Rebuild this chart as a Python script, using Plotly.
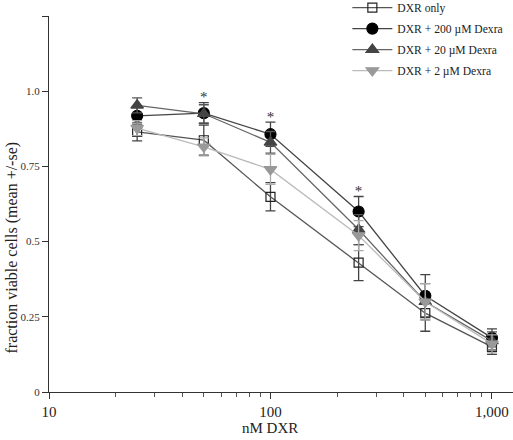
import plotly.graph_objects as go

doses = [25, 50, 100, 250, 500, 1000]

series_names = ["DXR only", "DXR + 200 µM Dexra", "DXR + 20 µM Dexra", "DXR + 2 µM Dexra"]
dxr_only = [0.865, 0.837, 0.649, 0.43, 0.262, 0.15]
dxr_only_se = [0.03, 0.05, 0.047, 0.06, 0.06, 0.025]
dexra200 = [0.918, 0.927, 0.857, 0.60, 0.32, 0.18]
dexra200_se = [0.03, 0.035, 0.04, 0.05, 0.07, 0.03]
dexra20 = [0.953, 0.925, 0.83, 0.54, 0.30, 0.17]
dexra20_se = [0.025, 0.03, 0.036, 0.05, 0.06, 0.03]
dexra2 = [0.877, 0.815, 0.74, 0.52, 0.30, 0.16]
dexra2_se = [0.025, 0.03, 0.05, 0.05, 0.06, 0.03]

star_x = [50, 100, 250]
star_y = [0.975, 0.91, 0.665]

y_ticks = [0, 0.25, 0.5, 0.75, 1.0, 1.25]
y_ticktext = ["0", "0.25", "0.5", "0.75", "1.0", ""]
x_ticks = [10, 100, 1000]
x_ticktext = ["10", "100", "1,000"]

font = "Liberation Serif, Times New Roman, serif"

styles = [
    dict(values=dxr_only, se=dxr_only_se, line="#555555", symbol="square-open", mcolor="#222222", size=9, ecolor="#444444"),
    dict(values=dexra200, se=dexra200_se, line="#444444", symbol="circle", mcolor="#000000", size=11, ecolor="#444444"),
    dict(values=dexra20, se=dexra20_se, line="#666666", symbol="triangle-up", mcolor="#444444", size=11, ecolor="#555555"),
    dict(values=dexra2, se=dexra2_se, line="#bbbbbb", symbol="triangle-down", mcolor="#999999", size=11, ecolor="#aaaaaa"),
]

fig = go.Figure()
for i, (name, s) in enumerate(zip(series_names, styles)):
    fig.add_trace(go.Scatter(
        x=doses, y=s["values"], name=name, mode="lines+markers",
        legendgroup=f"g{i}",
        line=dict(color=s["line"], width=1.3),
        marker=dict(symbol=s["symbol"], color=s["mcolor"], size=s["size"],
                    line=dict(color=s["mcolor"], width=1.2)),
        error_y=dict(type="data", array=s["se"], visible=True, color=s["ecolor"],
                     thickness=1.3, width=5),
    ))

fig.add_trace(go.Scatter(
    x=star_x, y=star_y, mode="text", text=["*"] * len(star_x),
    textfont=dict(family=font, size=15, color="#333333"),
    showlegend=False, hoverinfo="skip",
))

fig.update_layout(
    width=513, height=440,
    margin=dict(l=49, r=0, t=16, b=48, autoexpand=False),
    paper_bgcolor="white", plot_bgcolor="white",
    font=dict(family=font, color="#222222"),
    showlegend=True,
    legend=dict(x=0.643, y=1.061, xanchor="left", yanchor="top",
                font=dict(family=font, size=11.6, color="#222222"),
                bgcolor="rgba(0,0,0,0)", itemwidth=40, tracegroupgap=2),
    xaxis=dict(
        type="log", range=[1, 3.095], automargin=False,
        tickvals=x_ticks, ticktext=x_ticktext,
        ticks="outside", ticklen=6, tickcolor="#333333",
        showline=True, linecolor="#333333", linewidth=1.2,
        showgrid=False, zeroline=False,
        tickfont=dict(family=font, size=15, color="#222222"),
        minor=dict(ticks="outside", ticklen=4, tickcolor="#555555", showgrid=False, dtick="D1"),
    ),
    yaxis=dict(
        range=[0, 1.25], automargin=False,
        tickvals=y_ticks, ticktext=y_ticktext,
        ticks="outside", ticklen=6, tickcolor="#333333",
        showline=True, linecolor="#333333", linewidth=1.2,
        showgrid=False, zeroline=False,
        tickfont=dict(family=font, size=11, color="#333333"),
    ),
    annotations=[
        dict(text="fraction viable cells (mean +/-se)", textangle=-90,
             xref="paper", yref="paper", x=-0.08, y=0.384,
             xanchor="center", yanchor="middle", showarrow=False,
             font=dict(family=font, size=16, color="#222222")),
        dict(text="nM DXR", xref="paper", yref="paper", x=0.476, y=-0.096,
             xanchor="center", yanchor="middle", showarrow=False,
             font=dict(family=font, size=15, color="#222222")),
    ],
)

fig.write_html("out.html", config={"displayModeBar": False},
               post_script="document.body.style.margin='0';")
